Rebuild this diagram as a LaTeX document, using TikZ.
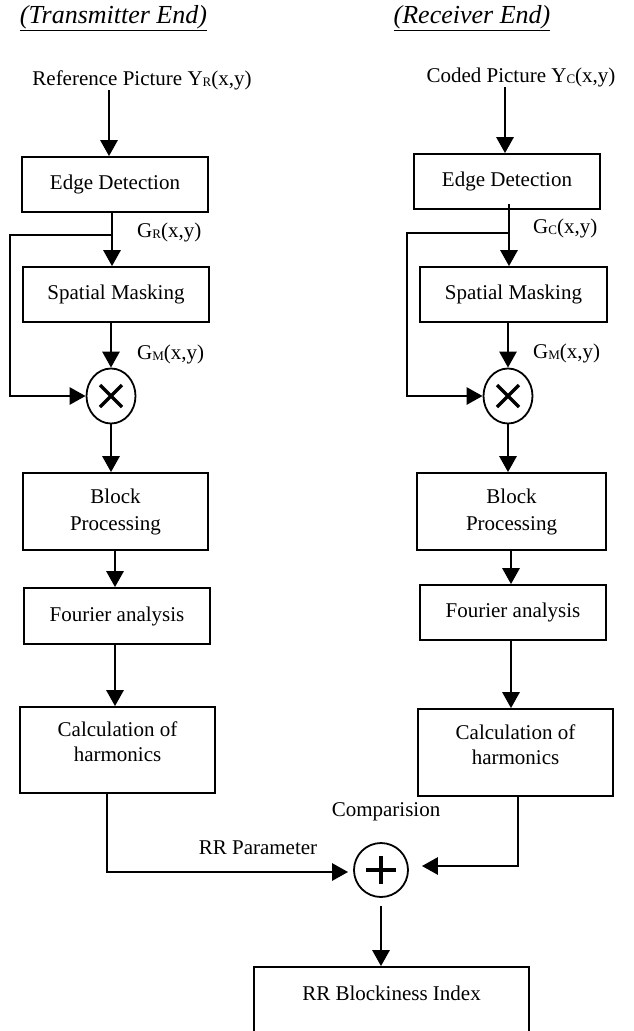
\documentclass[tikz,border=0pt]{standalone}
\usepackage{fontspec}
\setmainfont{Liberation Serif}
\usetikzlibrary{arrows.meta,shapes.geometric,calc}
\newcommand\sbs[1]{\raisebox{-1.5pt}{\fontsize{13}{13}\selectfont #1}}
\begin{document}
\begin{tikzpicture}[x=1pt,y=-1pt,
  txt/.style={font=\fontsize{21}{27}\selectfont, inner sep=0pt},
  ttl/.style={font=\fontsize{26}{30}\selectfont\itshape, inner sep=0pt},
  box/.style={draw, line width=1.7pt, minimum width=186pt, minimum height=55pt, inner sep=0pt, font=\fontsize{21}{27}\selectfont, align=center},
  op/.style={draw, ellipse, line width=1.8pt, minimum width=49pt, minimum height=55pt, inner sep=0pt},
  ln/.style={line width=2.8pt},
  arr/.style={line width=2.8pt, -{Triangle[width=17pt,length=16pt]}}]
\useasboundingbox (0,0) rectangle (633,1031);
\clip (0,0) rectangle (633,1031);
% titles
\node[ttl] (t1) at (113.5,18) {\underline{(Transmitter End)}};
\node[ttl] (t2) at (472,18) {\underline{(Receiver End)}};
% left column
\node[txt] (in1) at (142,80) {Reference Picture Y\sbs{R}(x,y)};
\node[box] (ed1) at (115,184.5) {Edge Detection};
\node[box] (sm1) at (116,294.5) {Spatial Masking};
\node[op] (mul1) at (111,396) {};
\node[box, minimum width=185pt, minimum height=77pt] (bp1) at (115.5,511.5) {Block\\Processing};
\node[box, minimum height=56pt] (fa1) at (117,616) {Fourier analysis};
\node[box, minimum width=195pt, minimum height=86pt,
  label={[name=ch1t, yshift=8pt, align=center, font=\fontsize{21}{25}\selectfont]center:Calculation of\\harmonics}] (ch1) at (117.5,750) {};
\node[txt, anchor=west] (gr) at (137,232) {G\sbs{R}(x,y)};
\node[txt, anchor=west] (gm1) at (137,354) {G\sbs{M}(x,y)};
% right column
\node[txt] (in2) at (521,77) {Coded Picture Y\sbs{C}(x,y)};
\node[box] (ed2) at (507,181.5) {Edge Detection};
\node[box, minimum width=187pt] (sm2) at (513.5,294.5) {Spatial Masking};
\node[op] (mul2) at (508,396) {};
\node[box, minimum width=189pt, minimum height=77pt] (bp2) at (511.5,511.5) {Block\\Processing};
\node[box] (fa2) at (513,612.5) {Fourier analysis};
\node[box, minimum width=195pt, minimum height=87pt,
  label={[name=ch2t, yshift=8pt, align=center, font=\fontsize{21}{25}\selectfont]center:Calculation of\\harmonics}] (ch2) at (515.5,752.5) {};
\node[txt, anchor=west] (gc) at (533,228) {G\sbs{C}(x,y)};
\node[txt, anchor=west] (gm2) at (533,353) {G\sbs{M}(x,y)};
% bottom
\node[op, minimum width=54pt, minimum height=54pt] (plus) at (381,870) {};
\node[txt] (cmp) at (386,812) {Comparision};
\node[txt] (rrp) at (258,848) {RR Parameter};
\node[box, minimum width=275pt, minimum height=78pt,
  label={[name=rrt, yshift=13pt, font=\fontsize{21}{25}\selectfont]center:RR Blockiness Index}] (rr) at (391.5,1006) {};
% operator symbols
\draw[line width=3.5pt] ($(mul1)+(-11,-11)$) -- ($(mul1)+(11,11)$) ($(mul1)+(-11,11)$) -- ($(mul1)+(11,-11)$);
\draw[line width=3.5pt] ($(mul2)+(-11,-11)$) -- ($(mul2)+(11,11)$) ($(mul2)+(-11,11)$) -- ($(mul2)+(11,-11)$);
\draw[line width=3.6pt] ($(plus)+(-15,0)$) -- ($(plus)+(15,0)$) ($(plus)+(0,-14)$) -- ($(plus)+(0,14)$);
% guide coordinates
\coordinate (L0) at (109,0);
\coordinate (L1) at (112,0);
\coordinate (L2) at (115,0);
\coordinate (L3) at (107,0);
\coordinate (R0) at (505,0);
\coordinate (R1) at (509,0);
\coordinate (R2) at (511,0);
\coordinate (R3) at (518,0);
\coordinate (b1) at (112,235);
\coordinate (f1) at (10,235);
\coordinate (b2) at (509,233);
\coordinate (f2) at (407,233);
% left connectors
\draw[arr] (in1.south -| L0) -- (ed1.north -| L0);
\draw[arr] (ed1.south -| L1) -- (sm1.north -| L1);
\draw[arr] (b1) -- (f1) |- (mul1.west);
\draw[arr] (sm1.south -| mul1) -- (mul1.north);
\draw[arr] (mul1.south) -- (bp1.north -| mul1);
\draw[arr] (bp1.south -| L2) -- (fa1.north -| L2);
\draw[arr] (fa1.south -| L2) -- (ch1.north -| L2);
\draw[arr, shorten >=5pt] (ch1.south -| L3) |- ($(plus.west)+(0,2)$);
% right connectors
\draw[arr] (in2.south -| R0) -- (ed2.north -| R0);
\draw[arr] ($(ed2.south -| R1)+(0,-6)$) -- (sm2.north -| R1);
\draw[arr] (b2) -- (f2) |- (mul2.west);
\draw[arr] (sm2.south -| mul2) -- (mul2.north);
\draw[arr] (mul2.south) -- (bp2.north -| mul2);
\draw[arr] (bp2.south -| R2) -- (fa2.north -| R2);
\draw[arr] (fa2.south -| R2) -- (ch2.north -| R2);
\draw[arr, shorten >=13pt] (ch2.south -| R3) |- ($(plus.east)+(0,-4)$);
% output
\draw[arr, shorten <=8pt] (plus.south) -- (rr.north -| plus);
\end{tikzpicture}
\end{document}
